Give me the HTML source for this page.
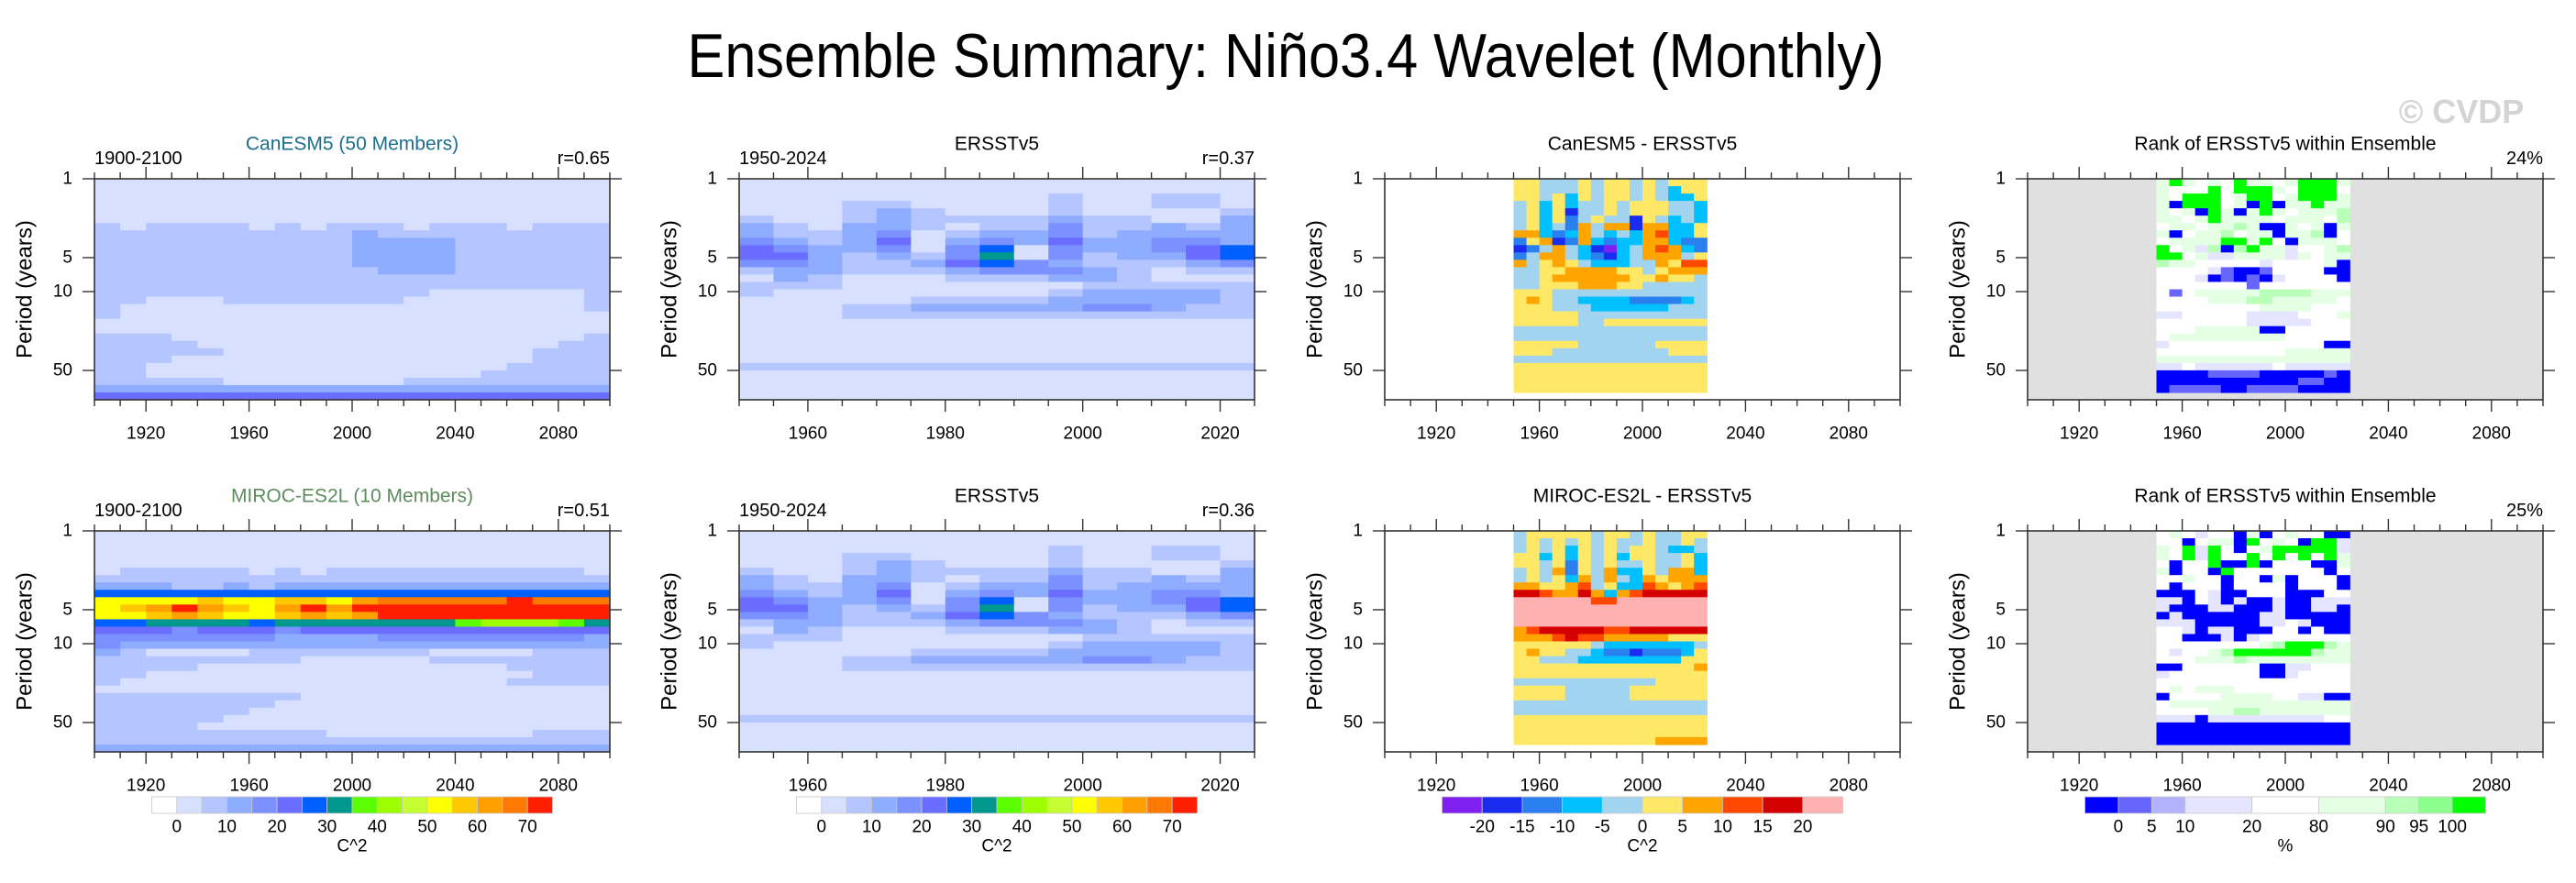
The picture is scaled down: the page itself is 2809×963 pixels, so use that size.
<!DOCTYPE html>
<html><head><meta charset="utf-8"><title>Ensemble Summary: Niño3.4 Wavelet</title>
<style>
html,body{margin:0;padding:0;background:#fff;}
svg{display:block;font-family:"Liberation Sans",Arial,sans-serif;}
</style></head>
<body>
<svg id="fig" width="2809" height="963" viewBox="0 0 2809 963" xmlns="http://www.w3.org/2000/svg">
  <rect x="0" y="0" width="2809" height="963" fill="#fff"/>
  <text x="1402" y="84" font-size="68" text-anchor="middle" textLength="1305" lengthAdjust="spacingAndGlyphs" fill="#000">Ensemble Summary: Niño3.4 Wavelet (Monthly)</text>
  <text x="2684" y="134" font-size="36" font-weight="bold" text-anchor="middle" fill="#d4d4d4">© CVDP</text>
  <g id="plots"></g>
</svg>
<script>
// ---------- data ----------
const periodTicks = [1, 5, 10, 50];
const periodMax = 91;
const longYears = [1900, 2100];
const obsYears = [1950, 2025];
const longMajorTicks = [1920, 1960, 2000, 2040, 2080];
const obsMajorTicks = [1960, 1980, 2000, 2020];
const waveLevels = ['0','10','20','30','40','50','60','70'];
const diffLevels = ['-20','-15','-10','-5','0','5','10','15','20'];
const rankLevels = ['0','5','10','20','80','90','95','100'];
const rankBoxWeights = [1,1,1,2,2,2,1,1,1];

const palWave = ['#ffffff','#d7e1ff','#b5c5ff','#8fadff','#7b91ff','#6a6dff','#0060ff','#00978f','#5cff00','#9dff00','#c5ff31','#ffff00','#ffc800','#ffa000','#ff7800','#ff1e00'];
const palDiff = ['#8020f0','#1a2cf0','#2b80f0','#00c0ff','#a2d4f0','#ffe866','#ffa500','#ff4800','#d40000','#ffb1b1'];
const palRank = ['#0000ff','#6666ff','#b2b2ff','#e5e5ff','#ffffff','#e5ffe5','#b9ffb9','#8cff8c','#00ff00'];

const canesmPower = [
"11111111111111111111","11111111111111111111","11111111111111111111","11111111111111111111",
"11111111111111111111","11111111111111111111","21222212122212221222","22222222223222222222",
"22222222223333222222","22222222223333222222","22222222223333222222","22222222223333222222",
"22222222222333222222","22222222222222222222","22222222222222222222","22222222222221111112",
"22111222222211111112","21111111111111111112","21111111111111111111","11111111111111111111",
"11111111111111111111","22211111111111111112","22221111111111111122","22222111111111111222",
"22211111111111111222","22111111111111112222","22111111111111122222","22222111111122222222",
"33333333333333333333","55555555555555555555"];
const mirocPower = [
"11111111111111111111","11111111111111111111","11111111111111111111","11111111111111111111",
"11111111111111111111","12222212122222222221","22222222222222222222","33322323333333333333",
"66666666666666666666","bbbbcbbccbdeeeeefeee","bcdfdcbdfdffffffffff","bbcdcbbcdcdfffffffff",
"66777767777777899987","55545554555555555555","44444443333444444443","43333333333333333333",
"32111122222221111222","22222222111112222222","22221111111111112222","22111111111111111222",
"21111111111111112222","11111111111111111111","22222222111111111111","22222221111111111111",
"22222211111111111111","22222111111111111111","22221111111111111111","22222222211111111222",
"22222222222222222222","33333333333333333333"];
const ersstPower = [
"111111111111111","111111111111111","111111111211221","111221111211221","111232111211112",
"211232222322113","321332122422323","322341233423333","432351343533443","543341461433456",
"553232471423356","443223564322234","233222344432122","132111222332111","222111111122222",
"211111111233332","111112222333332","111223333344322","111222222222222","111111111111111",
"111111111111111","111111111111111","111111111111111","111111111111111","111111111111111",
"222222222222222","111111111111111","111111111111111","111111111111111","111111111111111"];
const canesmDiff = [
"554445455454555","554445455454355","554535455454335","453534454555443","453514454555443",
"453524544154343","453426466166335","663236434367335","256126323366322","124643103467632",
"246643213466645","645654333446577","445566665545666","445666666556554","445556665544444",
"555444444444444","565443333222234","555444333333444","555554444444444","555554455555555",
"444444444444444","444444444444444","555554444445555","555444444444555","444444444444444",
"555555555555555","555555555555555","555555555555555","555555555555555"];
const mirocDiff = [
"455555455454455","454545454454454","454535454554334","553535453554453","554525454454453",
"454625463354663","454536464365666","665567453376567","887668636788888","999999779999999",
"999999999999999","999999999999999","999999999999999","678888877888888","666787766666555",
"555555433333334","565544322122235","554443333333355","555555555555556","555555555555555",
"444444444445555","555544444555555","555544444555555","444444444444444","444444444444444",
"555555555555555","555555555555555","555555555555555","555555555556666"];
const canesmRank = [
"585454855458885","544484888548884","548884588458885","508884508055855","545085058545556",
"554585555455546","455455650054505","504556455055604","455558858405554","845360685534456",
"884533555535455","655444443444450","444431001444400","444301010344440","444444414444444",
"414555556666555","444455566555554","444444445555444","334444433334445","444444433333444",
"444555550044444","455555555544444","344444444444400","444444444455555","555555555555555",
"334333333433333","000011110000010","000000000001100","011110011110000"];
const mirocRank = [
"454344050454400","440455084540883","548384045888883","548384484848485","404480080444005",
"504408444444404","445440440504440","404440444404440","000430044400044","330430300300333",
"300033000300330","030000003300000","333000003343000","443033000440400","440003034444444",
"444444445688865","434456888888655","444555655555555","004444440033444","344444440034444",
"444444444444444","454555444444444","044445555443300","455555555555555","444455665555555",
"333033333333344","000000000000000","000000000000000","000000000000000"];

// ---------- layout ----------
const NS = 'http://www.w3.org/2000/svg';
const plots = document.getElementById('plots');
const PW = 562, PH = 241, ROWH = PH / 30;
const colLefts = [103, 806, 1510, 2211];
const rowTops = [195, 579];

function mk(tag, attrs, parent) {
  const e = document.createElementNS(NS, tag);
  for (const k in attrs) e.setAttribute(k, attrs[k]);
  (parent || plots).appendChild(e);
  return e;
}
function txt(x, y, s, size, anchor, fill, parent) {
  const t = mk('text', {x: x, y: y, 'font-size': size, 'text-anchor': anchor || 'middle', fill: fill || '#000', 'dominant-baseline': 'central'}, parent);
  t.textContent = s;
  return t;
}

const panelDefs = [
  {c:0,r:0,range:longYears,data:longYears,grid:canesmPower,pal:palWave,bg:'#fff',majors:longMajorTicks,minor:10,title:'CanESM5 (50 Members)',tc:'#1b6f8e',left:'1900-2100',right:'r=0.65',name:'canesm5-power'},
  {c:1,r:0,range:obsYears,data:obsYears,grid:ersstPower,pal:palWave,bg:'#fff',majors:obsMajorTicks,minor:5,title:'ERSSTv5',tc:'#000',left:'1950-2024',right:'r=0.37',name:'ersst-power-top'},
  {c:2,r:0,range:longYears,data:obsYears,grid:canesmDiff,pal:palDiff,bg:'#fff',majors:longMajorTicks,minor:10,title:'CanESM5 - ERSSTv5',tc:'#000',left:'',right:'',name:'canesm5-difference'},
  {c:3,r:0,range:longYears,data:obsYears,grid:canesmRank,pal:palRank,bg:'#e0e0e0',majors:longMajorTicks,minor:10,title:'Rank of ERSSTv5 within Ensemble',tc:'#000',left:'',right:'24%',name:'canesm5-rank'},
  {c:0,r:1,range:longYears,data:longYears,grid:mirocPower,pal:palWave,bg:'#fff',majors:longMajorTicks,minor:10,title:'MIROC-ES2L (10 Members)',tc:'#5e8c5e',left:'1900-2100',right:'r=0.51',name:'miroc-power'},
  {c:1,r:1,range:obsYears,data:obsYears,grid:ersstPower,pal:palWave,bg:'#fff',majors:obsMajorTicks,minor:5,title:'ERSSTv5',tc:'#000',left:'1950-2024',right:'r=0.36',name:'ersst-power-bottom'},
  {c:2,r:1,range:longYears,data:obsYears,grid:mirocDiff,pal:palDiff,bg:'#fff',majors:longMajorTicks,minor:10,title:'MIROC-ES2L - ERSSTv5',tc:'#000',left:'',right:'',name:'miroc-difference'},
  {c:3,r:1,range:longYears,data:obsYears,grid:mirocRank,pal:palRank,bg:'#e0e0e0',majors:longMajorTicks,minor:10,title:'Rank of ERSSTv5 within Ensemble',tc:'#000',left:'',right:'25%',name:'miroc-rank'}
];

function drawPanel(p) {
  const x0 = colLefts[p.c], y0 = rowTops[p.r];
  const g = mk('g', {});
  
  
  const xs = yr => x0 + (yr - p.range[0]) / (p.range[1] - p.range[0]) * PW;
  const ys = per => y0 + Math.log10(per) / Math.log10(periodMax) * PH;

  const bg = mk('rect', {x: x0, y: y0, width: PW, height: PH, fill: p.bg}, g);
  
  

  // field cells
  const dx0 = xs(p.data[0]), dx1 = xs(p.data[1]);
  p.grid.forEach((row, ri) => {
    const cw = (dx1 - dx0) / row.length;
    let start = 0;
    for (let i = 1; i <= row.length; i++) {
      if (i === row.length || row[i] !== row[start]) {
        const v = parseInt(row[start], 16);
        const cell = mk('rect', {x: (dx0 + start * cw).toFixed(2), y: (y0 + ri * ROWH).toFixed(2), width: ((i - start) * cw + 0.6).toFixed(2), height: (ROWH + 0.6).toFixed(2), fill: p.pal[v]}, g);
        
        
        start = i;
      }
    }
  });

  // frame
  const fr = mk('rect', {x: x0, y: y0, width: PW, height: PH, fill: 'none', stroke: '#333', 'stroke-width': 1.6}, g);
  
  

  // x ticks
  for (let yr = p.range[0]; yr <= p.range[1] + 0.01; yr += p.minor) {
    const isMaj = p.majors.indexOf(yr) >= 0;
    const L = isMaj ? 13 : 7;
    const x = xs(yr);
    mk('line', {x1: x, x2: x, y1: y0, y2: y0 - L, stroke: '#333', 'stroke-width': 1.4}, g);
    mk('line', {x1: x, x2: x, y1: y0 + PH, y2: y0 + PH + L, stroke: '#333', 'stroke-width': 1.4}, g);
  }
  p.majors.forEach(yr => {
    const t = txt(xs(yr), y0 + PH + 37, String(yr), 19, 'middle', '#000', g);
    
    
  });
  // y ticks
  periodTicks.forEach(per => {
    const y = ys(per);
    mk('line', {x1: x0, x2: x0 - 13, y1: y, y2: y, stroke: '#333', 'stroke-width': 1.4}, g);
    mk('line', {x1: x0 + PW, x2: x0 + PW + 13, y1: y, y2: y, stroke: '#333', 'stroke-width': 1.4}, g);
    const t = txt(x0 - 24, y, String(per), 19, 'end', '#000', g);
    
    
  });
  const yl = mk('text', {x: 0, y: 0, 'font-size': 24, 'text-anchor': 'middle', 'dominant-baseline': 'central', transform: 'translate(' + (x0 - 76) + ',' + (y0 + PH / 2) + ') rotate(-90)'}, g);
  yl.textContent = 'Period (years)';
  
  

  const tt = txt(x0 + PW / 2, y0 - 38, p.title, 21, 'middle', p.tc, g);
  
  
  if (p.left) {
    const tl = txt(x0, y0 - 22, p.left, 20, 'start', '#000', g);
    
    
  }
  if (p.right) {
    const tr = txt(x0 + PW, y0 - 22, p.right, 20, 'end', '#000', g);
    
    
  }
}
panelDefs.forEach(drawPanel);

// ---------- colorbars ----------
const CBW = 437, CBY = 869, CBH = 18;
function colorbar(col, pal, weights, labels, unit, name) {
  const cx = colLefts[col] + PW / 2, x0 = cx - CBW / 2;
  const g = mk('g', {});
  
  
  const tot = weights.reduce((a, b) => a + b, 0);
  let acc = 0;
  const bounds = [];
  pal.forEach((c, i) => {
    const w = weights[i] / tot * CBW;
    const r = mk('rect', {x: x0 + acc, y: CBY, width: w, height: CBH, fill: c, stroke: '#c8c8c8', 'stroke-width': 0.8}, g);
    
    
    acc += w;
    bounds.push(x0 + acc);
  });
  return {g: g, bounds: bounds, cx: cx};
}
function labelBar(cb, labels, step, unit) {
  labels.forEach((s, i) => {
    const t = txt(cb.bounds[i * step], 902, s, 19, 'middle', '#000', cb.g);
    
    
  });
  const u = txt(cb.cx, 923, unit, 19, 'middle', '#000', cb.g);
  
  
}
const ones = n => Array(n).fill(1);
labelBar(colorbar(0, palWave, ones(16), waveLevels, 'C^2', 'colorbar-power-model'), waveLevels.map(s=>s), 2, 'C^2');
labelBar(colorbar(1, palWave, ones(16), waveLevels, 'C^2', 'colorbar-power-obs'), waveLevels, 2, 'C^2');
labelBar(colorbar(2, palDiff, ones(10), diffLevels, 'C^2', 'colorbar-difference'), diffLevels, 1, 'C^2');
labelBar(colorbar(3, palRank, rankBoxWeights, rankLevels, '%', 'colorbar-rank'), rankLevels, 1, '%');
</script>
</body></html>
